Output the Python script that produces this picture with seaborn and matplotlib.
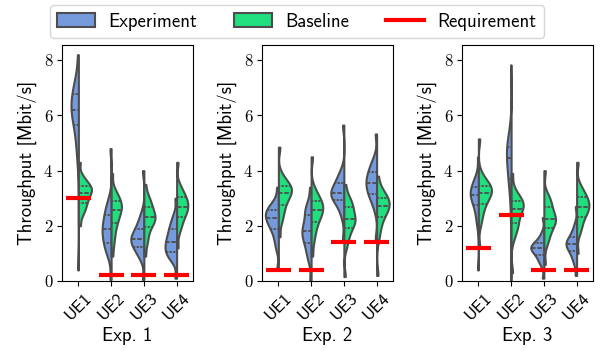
import numpy as np
import pandas as pd
import matplotlib
matplotlib.use("Agg")
import matplotlib.pyplot as plt
import seaborn as sns
from matplotlib.patches import Patch
from matplotlib.lines import Line2D

UES = ["UE1", "UE2", "UE3", "UE4"]
GROUPS = ["Experiment", "Baseline"]
EXP_TITLES = ["Exp. 1", "Exp. 2", "Exp. 3"]

# Throughput samples (Mbit/s), read as percentiles 0,5,...,100 of each violin
EXP1_EXPERIMENT = [
    [0.4, 4.3, 4.8, 5.1, 5.4, 5.65, 5.85, 5.98, 6.07, 6.14, 6.2, 6.3, 6.4, 6.5, 6.62, 6.78, 6.9, 7.0, 7.12, 7.3, 8.2],
    [0.05, 0.85, 1.05, 1.2, 1.3, 1.37, 1.5, 1.62, 1.72, 1.8, 1.87, 1.95, 2.05, 2.15, 2.27, 2.39, 2.5, 2.62, 2.78, 3.0, 4.8],
    [0.05, 0.8, 0.95, 1.06, 1.16, 1.24, 1.32, 1.39, 1.45, 1.5, 1.53, 1.58, 1.64, 1.71, 1.8, 1.9, 2.0, 2.12, 2.28, 2.5, 4.0],
    [0.1, 0.7, 0.82, 0.92, 1.0, 1.06, 1.13, 1.2, 1.28, 1.35, 1.42, 1.5, 1.58, 1.67, 1.77, 1.87, 1.98, 2.1, 2.25, 2.45, 3.0],
]
EXP1_BASELINE = [
    [2.0, 2.35, 2.5, 2.62, 2.72, 2.81, 2.9, 2.98, 3.06, 3.13, 3.2, 3.25, 3.3, 3.35, 3.4, 3.45, 3.52, 3.6, 3.7, 3.85, 4.3],
    [0.9, 1.3, 1.55, 1.75, 1.95, 2.09, 2.2, 2.3, 2.4, 2.5, 2.57, 2.63, 2.69, 2.75, 2.83, 2.91, 2.98, 3.07, 3.18, 3.35, 3.9],
    [0.9, 1.3, 1.5, 1.68, 1.85, 1.97, 2.06, 2.14, 2.2, 2.26, 2.31, 2.37, 2.44, 2.52, 2.6, 2.69, 2.78, 2.88, 3.0, 3.15, 3.5],
    [1.2, 1.75, 1.95, 2.1, 2.23, 2.33, 2.42, 2.5, 2.57, 2.63, 2.69, 2.75, 2.82, 2.89, 2.96, 3.03, 3.1, 3.2, 3.32, 3.5, 4.3],
]
EXP2_EXPERIMENT = [
    [0.4, 1.15, 1.4, 1.6, 1.77, 1.88, 1.98, 2.07, 2.14, 2.21, 2.27, 2.33, 2.39, 2.45, 2.51, 2.57, 2.63, 2.7, 2.8, 2.95, 3.4],
    [0.0, 0.7, 0.9, 1.08, 1.24, 1.37, 1.48, 1.58, 1.67, 1.75, 1.82, 1.9, 1.99, 2.08, 2.22, 2.39, 2.5, 2.6, 2.72, 2.9, 3.4],
    [1.5, 2.3, 2.55, 2.72, 2.83, 2.92, 3.0, 3.06, 3.12, 3.15, 3.18, 3.23, 3.29, 3.36, 3.45, 3.54, 3.63, 3.73, 3.85, 4.05, 5.65],
    [1.5, 2.55, 2.8, 2.98, 3.07, 3.15, 3.25, 3.34, 3.42, 3.49, 3.56, 3.63, 3.71, 3.79, 3.87, 3.96, 4.06, 4.17, 4.3, 4.5, 5.33],
]
EXP2_BASELINE = [
    [1.6, 2.1, 2.3, 2.47, 2.62, 2.75, 2.86, 2.96, 3.05, 3.12, 3.18, 3.24, 3.29, 3.34, 3.4, 3.45, 3.52, 3.6, 3.7, 3.88, 4.85],
    [0.9, 1.4, 1.65, 1.85, 2.02, 2.15, 2.26, 2.35, 2.43, 2.5, 2.57, 2.63, 2.69, 2.76, 2.83, 2.9, 2.98, 3.07, 3.2, 3.4, 4.5],
    [0.16, 1.2, 1.45, 1.62, 1.78, 1.91, 2.0, 2.08, 2.14, 2.2, 2.25, 2.32, 2.4, 2.5, 2.6, 2.69, 2.77, 2.86, 2.96, 3.1, 3.5],
    [0.2, 1.5, 1.8, 2.0, 2.18, 2.33, 2.42, 2.5, 2.57, 2.64, 2.7, 2.76, 2.82, 2.88, 2.94, 3.0, 3.07, 3.15, 3.25, 3.4, 3.8],
]
EXP3_EXPERIMENT = [
    [0.4, 2.0, 2.25, 2.45, 2.62, 2.75, 2.85, 2.94, 3.01, 3.07, 3.12, 3.17, 3.22, 3.28, 3.35, 3.42, 3.5, 3.58, 3.68, 3.85, 4.5],
    [0.0, 2.2, 2.9, 3.3, 3.55, 3.7, 3.85, 4.0, 4.15, 4.3, 4.44, 4.55, 4.65, 4.74, 4.8, 4.87, 4.97, 5.1, 5.3, 5.6, 7.83],
    [0.1, 0.55, 0.68, 0.78, 0.87, 0.94, 1.0, 1.06, 1.11, 1.15, 1.18, 1.21, 1.24, 1.28, 1.32, 1.37, 1.43, 1.5, 1.6, 1.78, 2.3],
    [0.2, 0.6, 0.75, 0.88, 0.98, 1.07, 1.14, 1.2, 1.25, 1.3, 1.34, 1.38, 1.42, 1.47, 1.53, 1.6, 1.68, 1.78, 1.9, 2.1, 2.7],
]
EXP3_BASELINE = [
    [1.2, 2.05, 2.3, 2.5, 2.67, 2.8, 2.9, 2.99, 3.07, 3.14, 3.2, 3.25, 3.3, 3.35, 3.4, 3.45, 3.52, 3.6, 3.7, 3.9, 5.15],
    [0.3, 1.5, 1.75, 1.9, 2.0, 2.1, 2.22, 2.35, 2.46, 2.55, 2.62, 2.68, 2.73, 2.78, 2.84, 2.9, 2.97, 3.05, 3.15, 3.35, 3.9],
    [0.6, 1.3, 1.5, 1.65, 1.79, 1.91, 2.0, 2.08, 2.15, 2.2, 2.25, 2.31, 2.38, 2.46, 2.57, 2.69, 2.78, 2.88, 3.0, 3.15, 4.0],
    [1.0, 1.7, 1.9, 2.05, 2.2, 2.33, 2.42, 2.5, 2.57, 2.63, 2.69, 2.75, 2.82, 2.89, 2.96, 3.03, 3.1, 3.2, 3.32, 3.5, 4.3],
]
REQ1 = [3.0, 0.2, 0.2, 0.2]
REQ2 = [0.4, 0.4, 1.4, 1.4]
REQ3 = [1.2, 2.4, 0.4, 0.4]
YTICKS = [0, 2, 4, 6, 8]

plt.rcParams["font.family"] = ["cmss10", "DejaVu Sans"]
plt.rcParams["axes.unicode_minus"] = False

PALETTE = ["cornflowerblue", "springgreen"]

fig, axes = plt.subplots(1, 3, figsize=(6.02, 3.53), dpi=100)
fig.subplots_adjust(left=0.103, right=0.985, bottom=0.204, top=0.8725, wspace=0.527)

experiments = [
    (EXP1_EXPERIMENT, EXP1_BASELINE, REQ1),
    (EXP2_EXPERIMENT, EXP2_BASELINE, REQ2),
    (EXP3_EXPERIMENT, EXP3_BASELINE, REQ3),
]

for ax, (exp_vals, base_vals, req), title in zip(axes, experiments, EXP_TITLES):
    rows = []
    for ue, e, b in zip(UES, exp_vals, base_vals):
        rows += [(ue, "Experiment", v) for v in e]
        rows += [(ue, "Baseline", v) for v in b]
    df = pd.DataFrame(rows, columns=["UE", "Type", "Throughput"])
    sns.violinplot(data=df, x="UE", y="Throughput", hue="Type", order=UES,
                   hue_order=GROUPS, split=True, inner="quart", palette=PALETTE,
                   cut=0, bw_adjust=0.6, linewidth=1.5,
                   inner_kws=dict(linewidth=1.3), ax=ax, legend=False)
    xs = np.arange(len(UES))
    ax.hlines(req, xs - 0.38, xs + 0.38, color="red", lw=3, zorder=5)
    ax.set_xlim(-0.5, 3.5)
    ax.set_ylim(0, 8.55)
    ax.set_yticks(YTICKS)
    ax.set_yticklabels([str(t) for t in YTICKS], fontfamily="cmr10", fontsize=12)
    ax.set_ylabel("Throughput [Mbit/s]", fontsize=13.5, labelpad=5)
    ax.set_xlabel(title, fontsize=13.5, labelpad=3)
    ax.tick_params(axis="x", rotation=45, labelsize=12.5)

blue = sns.desaturate("cornflowerblue", 0.75)
green = sns.desaturate("springgreen", 0.75)
edge = "#4d4d4d"
handles = [
    Patch(facecolor=blue, edgecolor=edge, lw=1.5, label="Experiment"),
    Patch(facecolor=green, edgecolor=edge, lw=1.5, label="Baseline"),
    Line2D([], [], color="red", lw=3, label="Requirement"),
]
fig.legend(handles=handles, loc="upper center", bbox_to_anchor=(0.493, 1.012),
           ncol=3, fontsize=13.5, columnspacing=2.0, handleheight=0.8,
           handlelength=2.0, handletextpad=0.7)

fig.savefig("out.png", dpi=100)
